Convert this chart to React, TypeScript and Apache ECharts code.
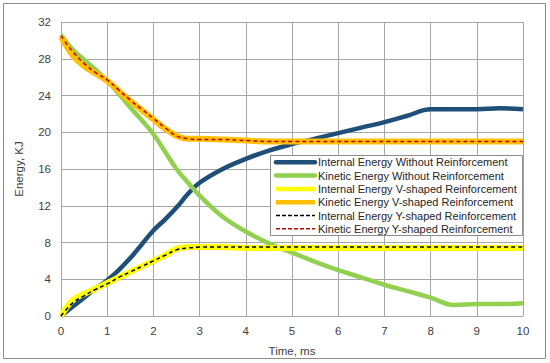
import React, { useEffect, useRef } from "react";
import * as echarts from "echarts";

const timeMs = [0, 0.25, 0.5, 0.75, 1, 1.25, 1.5, 1.75, 2, 2.25, 2.5, 2.75, 3, 3.5, 4, 4.5, 5, 5.5, 6, 6.5, 7, 7.5, 8, 8.5, 9, 9.5, 10];

const internalWithout = [0, 1.0, 2.0, 3.0, 3.9, 5.0, 6.3, 7.8, 9.3, 10.5, 11.8, 13.3, 14.5, 16.0, 17.1, 18.0, 18.7, 19.3, 19.9, 20.5, 21.1, 21.8, 22.5, 22.5, 22.5, 22.6, 22.5];
const kineticWithout = [30.6, 29.0, 27.9, 26.8, 25.6, 24.2, 22.7, 21.3, 19.8, 17.9, 16.0, 14.5, 13.1, 10.8, 9.2, 7.9, 6.9, 5.9, 5.0, 4.2, 3.4, 2.7, 2.0, 1.2, 1.3, 1.3, 1.4];
const internalV = [0, 1.7, 2.4, 3.0, 3.6, 4.2, 4.8, 5.4, 6.0, 6.6, 7.3, 7.5, 7.5, 7.5, 7.4, 7.4, 7.4, 7.4, 7.4, 7.4, 7.4, 7.4, 7.4, 7.4, 7.4, 7.4, 7.4];
const kineticV = [30.4, 28.4, 27.2, 26.4, 25.6, 24.5, 23.4, 22.4, 21.4, 20.4, 19.6, 19.3, 19.3, 19.2, 19.1, 19.0, 19.0, 19.0, 19.0, 19.0, 19.0, 19.0, 19.0, 19.0, 19.0, 19.0, 19.0];
const internalY = [0, 1.4, 2.2, 2.9, 3.5, 4.2, 4.8, 5.4, 6.0, 6.6, 7.2, 7.4, 7.5, 7.5, 7.5, 7.5, 7.5, 7.5, 7.5, 7.5, 7.5, 7.5, 7.5, 7.5, 7.5, 7.5, 7.5];
const kineticY = [30.5, 28.8, 27.5, 26.5, 25.7, 24.6, 23.5, 22.5, 21.5, 20.5, 19.6, 19.3, 19.2, 19.2, 19.1, 19.0, 19.0, 19.0, 19.0, 19.0, 19.0, 19.0, 19.0, 19.0, 19.0, 19.0, 19.0];

const seriesNames = [
  "Internal Energy Without Reinforcement",
  "Kinetic Energy Without Reinforcement",
  "Internal Energy V-shaped Reinforcement",
  "Kinetic Energy V-shaped Reinforcement",
  "Internal Energy Y-shaped Reinforcement",
  "Kinetic Energy Y-shaped Reinforcement",
];

const xTicks = { min: 0, max: 10, interval: 1 };
const yTicks = { min: 0, max: 32, interval: 4 };

const FONT = "Liberation Sans";

const styles = [
  { color: "#1f4e79", width: 4.5, type: "solid" as any },
  { color: "#92d050", width: 4.5, type: "solid" as any },
  { color: "#ffff00", width: 6, type: "solid" as any },
  { color: "#ffc000", width: 6, type: "solid" as any },
  { color: "#000000", width: 1.5, type: [4, 3] as any },
  { color: "#c00000", width: 1.5, type: [4, 3] as any },
];

export default function App() {
  const ref = useRef<HTMLDivElement>(null);
  useEffect(() => {
    if (!ref.current) return;
    const chart = echarts.init(ref.current, undefined, { renderer: "svg" });
    const pair = (vals: number[]) => timeMs.map((t, i) => [t, vals[i]]);
    const allVals = [internalWithout, kineticWithout, internalV, kineticV, internalY, kineticY];
    const zs = [2, 2, 3, 3, 4, 4];
    const series = seriesNames.map((name, i) => ({
      name,
      type: "line",
      data: pair(allVals[i]),
      smooth: 0.4,
      symbol: "none",
      showSymbol: false,
      z: zs[i],
      lineStyle: { color: styles[i].color, width: styles[i].width, type: styles[i].type },
      itemStyle: { color: styles[i].color },
    }));

    const legendLeft = 270;
    const legendTop = 155;
    const rowH = 13.3;
    const legendEls: any[] = [
      {
        type: "rect",
        shape: { x: legendLeft + 0.5, y: legendTop + 0.5, width: 252, height: 80 },
        style: { fill: "#ffffff", stroke: "#8c8c8c", lineWidth: 1 },
        z: 10,
      },
    ];
    seriesNames.forEach((name, i) => {
      const cy = legendTop + 7.3 + i * rowH;
      const w = i < 4 ? Math.min(styles[i].width, 4.5) : 1.5;
      legendEls.push({
        type: "line",
        shape: { x1: legendLeft + 6, y1: cy, x2: legendLeft + 45, y2: cy },
        style: {
          stroke: styles[i].color,
          lineWidth: w,
          lineDash: i >= 4 ? [4, 2] : null,
          lineCap: i < 2 ? "round" : "butt",
        },
        z: 11,
      });
      legendEls.push({
        type: "text",
        x: legendLeft + 48,
        y: cy,
        style: {
          text: name,
          font: `11px "${FONT}"`,
          fill: "#262626",
          verticalAlign: "middle",
          align: "left",
        },
        z: 11,
      });
    });

    chart.setOption({
      animation: false,
      backgroundColor: "#ffffff",
      textStyle: { fontFamily: FONT },
      graphic: [
        {
          type: "rect",
          shape: { x: 3.5, y: 3.5, width: 542, height: 355 },
          style: { fill: "none", stroke: "#8c8c8c", lineWidth: 1 },
          z: -1,
        },
        ...legendEls,
      ],
      grid: { left: 61, right: 27, top: 22, bottom: 47, containLabel: false },
      xAxis: {
        type: "value",
        min: xTicks.min,
        max: xTicks.max,
        interval: xTicks.interval,
        name: "Time, ms",
        nameLocation: "middle",
        nameGap: 29,
        nameTextStyle: { fontSize: 11.5, color: "#404040", fontFamily: FONT },
        axisLine: { show: true, lineStyle: { color: "#a6a6a6" } },
        axisTick: { show: false },
        axisLabel: { fontSize: 11.5, color: "#404040", margin: 9, fontFamily: FONT },
        splitLine: { show: true, lineStyle: { color: "#a6a6a6", width: 1 } },
      },
      yAxis: {
        type: "value",
        min: yTicks.min,
        max: yTicks.max,
        interval: yTicks.interval,
        name: "Energy, KJ",
        nameLocation: "middle",
        nameGap: 36,
        nameTextStyle: { fontSize: 11.5, color: "#404040", fontFamily: FONT },
        axisLine: { show: true, lineStyle: { color: "#a6a6a6" } },
        axisTick: { show: false },
        axisLabel: { fontSize: 11.5, color: "#404040", margin: 10, fontFamily: FONT },
        splitLine: { show: true, lineStyle: { color: "#a6a6a6", width: 1 } },
      },
      series,
    });
    return () => chart.dispose();
  }, []);
  return <div ref={ref} style={{ position: "fixed", left: 0, top: 0, width: 550, height: 363 }} />;
}
